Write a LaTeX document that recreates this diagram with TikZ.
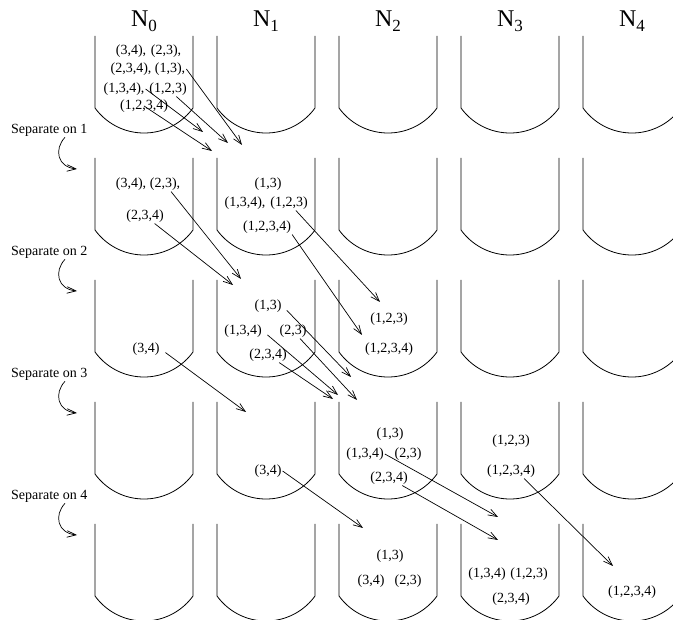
\documentclass[tikz,border=0pt]{standalone}
\usepackage{fontspec}
\setmainfont{Liberation Serif}
\usetikzlibrary{arrows.meta}
\tikzset{
BUCKET/.style={draw=black,line width=0.8pt,line join=miter},
MOVE/.style={draw=black,line width=0.7pt,-{Straight Barb[length=9pt,width=6.5pt]}},
GAP/.style={shorten <=6pt},
ITEM/.style={inner sep=1pt,font=\fontsize{14}{16}\selectfont},
HEAD/.style={inner sep=0pt,anchor=base,font=\fontsize{24}{26}\selectfont},
SEP/.style={inner sep=1pt,anchor=west,font=\fontsize{14}{16}\selectfont},
}
\begin{document}
\begin{tikzpicture}[x=1pt,y=-1pt]
	\useasboundingbox (0,0) rectangle (673,620);
	\clip (0,0) rectangle (673,620);
	\foreach \i in {0,...,4}{
		\node[HEAD] (h\i) at (144+122*\i,27) {N\raisebox{-5pt}{\fontsize{17}{17}\selectfont\i}};
		\foreach \j in {0,...,4}
			\path[BUCKET] (95+122*\i,36+122*\j) -- ++(0,72) arc[start angle=144.1,end angle=35.9,radius=60.5] -- ++(0,-72);
	}
	\foreach \k in {1,...,4}{
		\node[SEP] (s\k) at (10,8+122*\k) {Separate on \k};
		\coordinate (e\k) at (77,47+122*\k);
		\path[MOVE] (s\k.-25) .. controls (54,27+122*\k) and (57,45+122*\k) .. (e\k);
	}
	\node[ITEM] (r0a) at (131,51) {(3,4),};
	\node[ITEM] (r0b) at (166,51) {(2,3),};
	\node[ITEM] (r0c) at (131,69) {(2,3,4),};
	\node[ITEM] (r0d) at (170,69) {(1,3),};
	\node[ITEM] (r0e) at (124,89) {(1,3,4),};
	\node[ITEM] (r0f) at (168,89) {(1,2,3)};
	\node[ITEM] (r0g) at (144,106) {(1,2,3,4)};
	\coordinate (t0d) at (242,145);
	\coordinate (t0f) at (228,143);
	\coordinate (t0e) at (203,132);
	\coordinate (t0g) at (212,151);
	\path[MOVE] (r0d.east) -- (t0d);
	\path[MOVE] (r0f) -- (t0f);
	\path[MOVE] (r0e.east) -- (t0e);
	\path[MOVE] (r0g.center) -- (t0g);
	\node[ITEM] (r1a) at (131,184) {(3,4),};
	\node[ITEM] (r1b) at (165,184) {(2,3),};
	\node[ITEM] (r1c) at (145,216) {(2,3,4)};
	\node[ITEM] (r1d) at (268,184) {(1,3)};
	\node[ITEM] (r1e) at (245,203) {(1,3,4),};
	\node[ITEM] (r1f) at (289,203) {(1,2,3)};
	\node[ITEM] (r1g) at (267,227) {(1,2,3,4)};
	\coordinate (t1b) at (241,279);
	\coordinate (t1c) at (233,285);
	\coordinate (t1f) at (380,302);
	\coordinate (t1g) at (362,335);
	\path[MOVE] (r1b) -- (t1b);
	\path[MOVE] (r1c) -- (t1c);
	\path[MOVE] (r1f) -- (t1f);
	\path[MOVE] (r1g.south east) -- (t1g);
	\node[ITEM] (r2a) at (146,349) {(3,4)};
	\node[ITEM] (r2b) at (268,306) {(1,3)};
	\node[ITEM] (r2c) at (243,331) {(1,3,4)};
	\node[ITEM] (r2d) at (293,331) {(2,3)};
	\node[ITEM] (r2e) at (268,355) {(2,3,4)};
	\node[ITEM] (r2f) at (389,319) {(1,2,3)};
	\node[ITEM] (r2g) at (389,349) {(1,2,3,4)};
	\coordinate (t2a) at (246,412);
	\coordinate (t2b) at (351,377);
	\coordinate (t2c) at (338,395);
	\coordinate (t2d) at (357,400);
	\coordinate (t2e) at (333,399);
	\path[MOVE,GAP] (r2a.east) -- (t2a);
	\path[MOVE,GAP] (r2b.east) -- (t2b);
	\path[MOVE,GAP] (r2c.east) -- (t2c);
	\path[MOVE] (r2d) -- (t2d);
	\path[MOVE] (r2e) -- (t2e);
	\node[ITEM] (r3a) at (268,471) {(3,4)};
	\node[ITEM] (r3b) at (390,434) {(1,3)};
	\node[ITEM] (r3c) at (365,454) {(1,3,4)};
	\node[ITEM] (r3d) at (408,454) {(2,3)};
	\node[ITEM] (r3e) at (389,478) {(2,3,4)};
	\node[ITEM] (r3f) at (511,441) {(1,2,3)};
	\node[ITEM] (r3g) at (511,471) {(1,2,3,4)};
	\coordinate (t3a) at (363,528);
	\coordinate (t3c) at (498,517);
	\coordinate (t3e) at (498,540);
	\coordinate (t3g) at (613,566);
	\path[MOVE] (r3a.east) -- (t3a);
	\path[MOVE] (r3c.east) -- (t3c);
	\path[MOVE] (r3e) -- (t3e);
	\path[MOVE] (r3g.-30) -- (t3g);
	\node[ITEM] (r4a) at (390,556) {(1,3)};
	\node[ITEM] (r4b) at (371,581) {(3,4)};
	\node[ITEM] (r4c) at (408,581) {(2,3)};
	\node[ITEM] (r4d) at (487,574) {(1,3,4)};
	\node[ITEM] (r4e) at (529,574) {(1,2,3)};
	\node[ITEM] (r4f) at (511,599) {(2,3,4)};
	\node[ITEM] (r4g) at (632,592) {(1,2,3,4)};
\end{tikzpicture}
\end{document}
